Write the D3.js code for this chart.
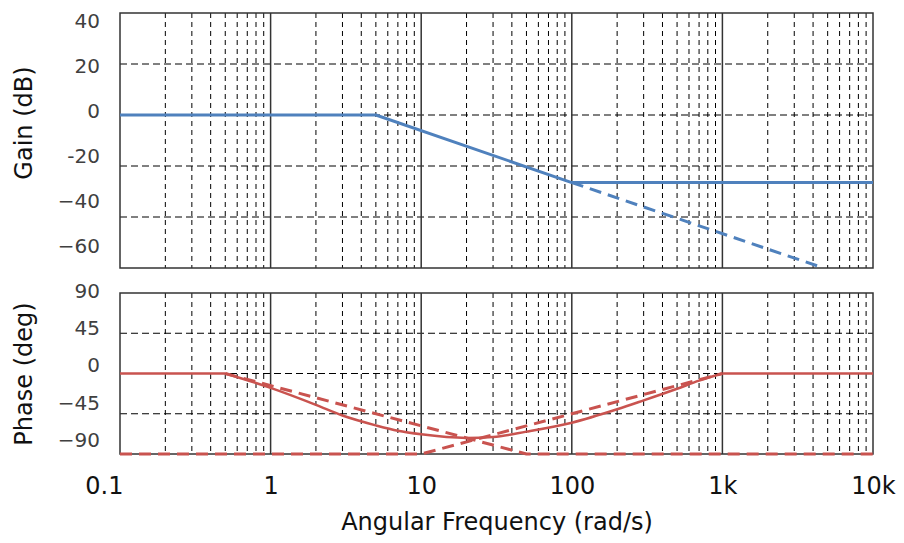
<!DOCTYPE html>
<html>
<head>
<meta charset="utf-8">
<script src="https://cdn.jsdelivr.net/npm/d3@7"></script>
<style>
  html, body { margin: 0; padding: 0; background: #fff; }
  svg { display: block; }
</style>
</head>
<body>
<svg id="chart" width="904" height="543"></svg>
<script>
// ---------- data ----------
const freqTicks = [0.1, 1, 10, 100, 1000, 10000];
const freqTickLabels = ["0.1", "1", "10", "100", "1k", "10k"];

const gainTicks = [40, 20, 0, -20, -40, -60];
const gainTickLabels = ["40", "20", "0", "-20", "\u221240", "\u221260"];
const phaseTicks = [90, 45, 0, -45, -90];
const phaseTickLabels = ["90", "45", "0", "\u221245", "\u221290"];

// gain (solid: combined asymptote; dashed: pole asymptote continued)
const gainSolidW  = [0.1, 5, 100, 10000];
const gainSolidDb = [0, 0, -26.5, -26.5];
const gainDashW   = [100, 4700];
const gainDashDb  = [-26.5, -60];

// phase (solid curve)
const phaseFlatLeftW  = [0.1, 0.5];
const phaseFlatLeftD  = [0, 0];
const phaseCurveW = [0.5, 1, 2, 3, 5, 7, 10, 20, 30, 50, 100, 200, 300, 500, 700, 1000];
const phaseCurveD = [0, -16, -35, -47, -58, -64, -68, -72, -71, -65, -55, -40, -30, -17, -8, 0];
const phaseFlatRightW = [1000, 10000];
const phaseFlatRightD = [0, 0];
// dashed asymptotes
const poleAsymW = [0.5, 50, 10000];
const poleAsymD = [0, -90, -90];
const zeroAsymW = [0.1, 10, 1000];
const zeroAsymD = [-90, -90, 0];

// ---------- layout ----------
const X0 = 120, X1 = 873;
const G0 = 13, G1 = 268;
const P0 = 293, P1 = 454;
const BLUE = "#4f81bd", RED = "#c9534f";
const FONT = "DejaVu Sans, Verdana, sans-serif";

const svg = d3.select("#chart");
const x = d3.scaleLog().domain([0.1, 10000]).range([X0, X1]);
const yG = d3.scaleLinear().domain([40, -60]).range([G0, G1]);
const yP = d3.scaleLinear().domain([90, -90]).range([P0, P1]);
// label placement scales (labels in the picture are spaced differently from gridlines)
const yGLab = d3.scaleLinear().domain([40, -60]).range([21.5, 246]);
const yPLab = d3.scaleLinear().domain([90, -90]).range([291, 440]);

const minorFreqs = [];
for (let d = 0.1; d < 10000; d *= 10)
  for (let m = 2; m <= 9; m++) minorFreqs.push(+(d * m).toPrecision(3));
const majorFreqs = freqTicks.slice(1, -1);

function panel(y, top, bottom, hGrid) {
  const g = svg.append("g");
  g.selectAll("line.minor").data(minorFreqs).enter().append("line")
    .attr("x1", d => x(d)).attr("x2", d => x(d))
    .attr("y1", top).attr("y2", bottom)
    .attr("stroke", "#000").attr("stroke-width", 1)
    .attr("stroke-dasharray", "5,4");
  g.selectAll("line.h").data(hGrid).enter().append("line")
    .attr("x1", X0).attr("x2", X1)
    .attr("y1", d => y(d)).attr("y2", d => y(d))
    .attr("stroke", "#000").attr("stroke-width", 1)
    .attr("stroke-dasharray", "7,4");
  g.selectAll("line.major").data(majorFreqs).enter().append("line")
    .attr("x1", d => x(d)).attr("x2", d => x(d))
    .attr("y1", top).attr("y2", bottom)
    .attr("stroke", "#333").attr("stroke-width", 1.5);
  g.append("rect").attr("x", X0).attr("y", top)
    .attr("width", X1 - X0).attr("height", bottom - top)
    .attr("fill", "none").attr("stroke", "#333").attr("stroke-width", 1.5);
  return g;
}

panel(yG, G0, G1, [20, 0, -20, -40]);
panel(yP, P0, P1, [45, 0, -45]);

function pathFrom(ws, vs, y, color, dash, width, curve) {
  const line = d3.line().x(d => x(d[0])).y(d => y(d[1])).curve(curve || d3.curveLinear);
  svg.append("path")
    .attr("d", line(ws.map((w, i) => [w, vs[i]])))
    .attr("fill", "none").attr("stroke", color)
    .attr("stroke-width", width)
    .attr("stroke-dasharray", dash || null)
    .attr("stroke-linejoin", "round");
}

// gain
pathFrom(gainDashW, gainDashDb, yG, BLUE, "12,7", 3);
pathFrom(gainSolidW, gainSolidDb, yG, BLUE, null, 3);

// phase
pathFrom(zeroAsymW, zeroAsymD, yP, RED, "12,7", 3);
pathFrom(poleAsymW, poleAsymD, yP, RED, "12,7", 3);
pathFrom(phaseFlatLeftW, phaseFlatLeftD, yP, RED, null, 2.5);
pathFrom(phaseCurveW, phaseCurveD, yP, RED, null, 2.5, d3.curveMonotoneX);
pathFrom(phaseFlatRightW, phaseFlatRightD, yP, RED, null, 2.5);

// axes (labels only)
const gAxis = svg.append("g").attr("transform", "translate(100,0)")
  .call(d3.axisLeft(yGLab).tickValues(gainTicks).tickSize(0).tickPadding(0)
    .tickFormat((d, i) => gainTickLabels[i]));
const pAxis = svg.append("g").attr("transform", "translate(100,0)")
  .call(d3.axisLeft(yPLab).tickValues(phaseTicks).tickSize(0).tickPadding(0)
    .tickFormat((d, i) => phaseTickLabels[i]));
[gAxis, pAxis].forEach(a => {
  a.select(".domain").remove();
  a.selectAll("text").attr("font-family", FONT).attr("font-size", 20).attr("fill", "#404040");
});

const xAxis = svg.append("g").attr("transform", `translate(0,${P1})`)
  .call(d3.axisBottom(x).tickValues(freqTicks).tickSize(0).tickPadding(23)
    .tickFormat((d, i) => freqTickLabels[i]));
xAxis.select(".domain").remove();
xAxis.selectAll("text").attr("font-family", FONT).attr("font-size", 24).attr("fill", "#111");
xAxis.selectAll("text").filter((d, i) => i === 0).attr("text-anchor", "end").attr("dx", 3);

// titles
svg.append("text").attr("x", 497).attr("y", 530)
  .attr("text-anchor", "middle").attr("font-family", FONT).attr("font-size", 24)
  .attr("fill", "#111").text("Angular Frequency (rad/s)");
svg.append("text").attr("transform", "translate(32,123) rotate(-90)")
  .attr("text-anchor", "middle").attr("font-family", FONT).attr("font-size", 24)
  .attr("fill", "#111").text("Gain (dB)");
svg.append("text").attr("transform", "translate(32,374) rotate(-90)")
  .attr("text-anchor", "middle").attr("font-family", FONT).attr("font-size", 24)
  .attr("fill", "#111").text("Phase (deg)");
</script>
</body>
</html>
